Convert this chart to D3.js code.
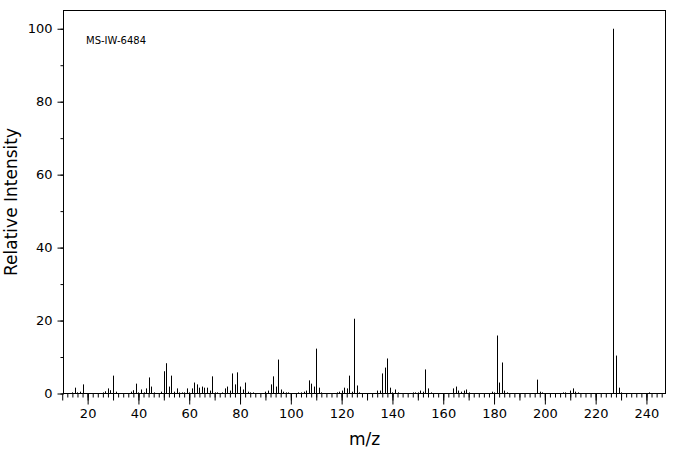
<!DOCTYPE html>
<html>
<head>
<meta charset="utf-8">
<script src="https://cdn.jsdelivr.net/npm/d3@7"></script>
<style>
  body { margin: 0; background: #fff; }
  text { font-family: "DejaVu Sans", sans-serif; }
</style>
</head>
<body>
<div id="chart"></div>
<script>
// peak list: m/z and relative intensity
const mz = [14, 15, 16, 17, 18, 26, 27, 28, 29, 30, 31, 37, 38, 39, 40, 41, 42, 43, 44, 45, 46,
  49, 50, 51, 52, 53, 54, 55, 56, 57, 58, 59, 60, 61, 62, 63, 64, 65, 66, 67, 68, 69, 70, 71,
  73, 74, 75, 76, 77, 78, 79, 80, 81, 82, 83, 84, 85, 90, 91, 92, 93, 94, 95, 96, 97, 98, 99,
  103, 104, 105, 106, 107, 108, 109, 110, 111, 112, 118, 119, 120, 121, 122, 123, 124, 125, 126, 127,
  134, 135, 136, 137, 138, 139, 140, 141, 142, 148, 149, 150, 151, 152, 153, 154, 155,
  164, 165, 166, 167, 168, 169, 170, 179, 180, 181, 182, 183, 184, 185, 197, 198, 199,
  207, 208, 210, 211, 212, 213, 227, 228, 229, 230, 241];
const intensity = [0.3, 1.6, 0.3, 0.5, 2.5, 0.3, 0.6, 1.4, 0.9, 4.9, 0.5, 0.5, 0.9, 2.7, 0.3, 1.1, 0.3, 1.4, 4.4, 1.9, 0.3,
  0.5, 6.1, 8.3, 1.9, 4.9, 0.5, 1.4, 0.3, 0.3, 0.3, 1.4, 0.3, 1.4, 3.0, 2.5, 1.6, 1.9, 1.6, 1.6, 0.8, 4.7, 0.3, 0.3,
  0.3, 1.4, 1.9, 0.8, 5.5, 2.5, 5.8, 1.9, 1.1, 3.0, 0.5, 0.3, 0.3, 0.5, 0.8, 2.5, 4.7, 1.9, 9.3, 1.1, 0.5, 0.3, 0.3,
  0.3, 0.3, 0.5, 0.8, 3.6, 2.7, 1.9, 12.3, 1.6, 0.3, 0.3, 0.5, 0.8, 1.6, 1.4, 4.9, 0.5, 20.5, 2.2, 0.3,
  0.8, 0.8, 5.5, 7.1, 9.6, 1.6, 0.3, 1.1, 0.3, 0.3, 0.3, 0.3, 0.8, 0.5, 6.6, 1.4, 0.3,
  1.4, 1.9, 0.8, 0.5, 0.8, 1.1, 0.3, 0.5, 0.3, 15.9, 3.0, 8.5, 0.8, 0.3, 3.8, 0.5, 0.3,
  0.3, 0.3, 0.8, 1.4, 0.5, 0.3, 100, 10.4, 1.6, 0.3, 0.3];
const yTicks = [0, 20, 40, 60, 80, 100];
const xTicks = [20, 40, 60, 80, 100, 120, 140, 160, 180, 200, 220, 240];
const label = "MS-IW-6484";

const width = 676, height = 455;
const mLeft = 63.5, mRight = 665.5, mTop = 10.5, mBottom = 393.5;

const x = d3.scaleLinear().domain([10.5, 247.5]).range([mLeft, mRight]);
const y = d3.scaleLinear().domain([0, 105]).range([mBottom, mTop]);

const svg = d3.select("#chart").append("svg")
  .attr("width", width).attr("height", height);

// frame
svg.append("rect")
  .attr("x", mLeft).attr("y", mTop)
  .attr("width", mRight - mLeft).attr("height", mBottom - mTop)
  .attr("fill", "none").attr("stroke", "#000");

// y axis: labelled every 20, minor every 10
svg.append("g")
  .attr("transform", `translate(${mLeft},0)`)
  .call(d3.axisLeft(y).tickValues(d3.range(0, 101, 10)).tickSize(3).tickFormat(""))
  .call(g => g.select(".domain").remove());
svg.append("g")
  .attr("transform", `translate(${mLeft},0)`)
  .call(d3.axisLeft(y).tickValues(yTicks).tickSize(6).tickPadding(5))
  .call(g => g.select(".domain").remove())
  .call(g => g.selectAll("text").attr("font-size", 13).attr("fill", "#000"));

// x axis: short every 2, medium every 10, long + label every 20
const xAxis = (vals, size) => svg.append("g")
  .attr("transform", `translate(0,${mBottom})`)
  .call(d3.axisBottom(x).tickValues(vals).tickSize(size).tickFormat(""))
  .call(g => g.select(".domain").remove());
xAxis(d3.range(12, 247, 2), 4);
xAxis(d3.range(10, 247, 10), 7);
svg.append("g")
  .attr("transform", `translate(0,${mBottom})`)
  .call(d3.axisBottom(x).tickValues(xTicks).tickSize(11).tickPadding(4))
  .call(g => g.select(".domain").remove())
  .call(g => g.selectAll("text").attr("font-size", 13).attr("fill", "#000"));

// peaks
const peaks = mz.map((m, i) => ({ m, v: intensity[i] }));
svg.append("g").selectAll("line").data(peaks).join("line")
  .attr("x1", d => Math.round(x(d.m)) + 0.5).attr("x2", d => Math.round(x(d.m)) + 0.5)
  .attr("y1", y(0)).attr("y2", d => y(d.v))
  .attr("stroke", "#000").attr("stroke-width", 1);

// titles
svg.append("text").attr("x", (mLeft + mRight) / 2).attr("y", 445)
  .attr("text-anchor", "middle").attr("font-size", 17).text("m/z");
svg.append("text").attr("transform", `translate(17,${(mTop + mBottom) / 2}) rotate(-90)`)
  .attr("text-anchor", "middle").attr("font-size", 17).text("Relative Intensity");
svg.append("text").attr("x", 86).attr("y", 44)
  .attr("font-size", 10).attr("font-family", "DejaVu Sans Mono").text(label);
</script>
</body>
</html>
